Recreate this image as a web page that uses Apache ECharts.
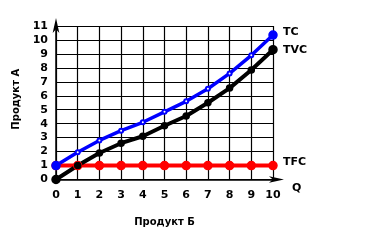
<!DOCTYPE html>
<html>
<head>
<meta charset="UTF-8" />
<script src="https://cdn.jsdelivr.net/npm/echarts@6/dist/echarts.min.js"></script>
<style>
  body { margin: 0; background: #fff; }
  #chart { width: 380px; height: 246px; }
</style>
</head>
<body>
<div id="chart"></div>
<script>
// объём выпуска Q
var qValues = [0, 1, 2, 3, 4, 5, 6, 7, 8, 9, 10]
var tcValues = [1, 1.95, 2.8, 3.5, 4.1, 4.85, 5.6, 6.5, 7.6, 8.9, 10.35]
var tvcValues = [0, 1.0, 1.9, 2.6, 3.1, 3.85, 4.55, 5.5, 6.55, 7.85, 9.3]
var tfcValues = [1, 1, 1, 1, 1, 1, 1, 1, 1, 1, 1]

function pairs(vals) {
  return qValues.map(function (q, i) { return [q, vals[i]] })
}

var chart = echarts.init(document.getElementById('chart'))
var font = 'DejaVu Sans'
var lastQ = qValues[qValues.length - 1]

// крайние точки крупнее, промежуточные - мелкие
function atEnds(a, b) {
  return function (v) {
    return v[0] === 0 || v[0] === lastQ ? a : b
  }
}

function line(name, vals, color, width, symbol, size, labelOffset) {
  return {
    name: name,
    type: 'line',
    data: pairs(vals),
    symbol: symbol,
    symbolSize: size,
    showAllSymbol: true,
    lineStyle: { color: color, width: width },
    itemStyle: { color: color, borderColor: color, borderWidth: 1.5 },
    endLabel: {
      show: true,
      formatter: name,
      color: '#000',
      fontFamily: font,
      fontWeight: 'bold',
      fontSize: 11,
      distance: 10,
      offset: labelOffset
    },
    animation: false,
    z: 3
  }
}

chart.setOption({
  animation: false,
  grid: { left: 56, right: 107, top: 26, bottom: 66.5 },
  xAxis: {
    type: 'value',
    min: 0, max: 10, interval: 1,
    name: 'Продукт Б',
    nameLocation: 'middle',
    nameGap: 38,
    nameTextStyle: { color: '#000', fontFamily: font, fontWeight: 'bold', fontSize: 10 },
    axisLine: {
      show: true,
      lineStyle: { color: '#000', width: 1.5 },
      symbol: ['none', 'arrow'],
      symbolSize: [5, 15],
      symbolOffset: [0, 11]
    },
    axisTick: { show: false },
    axisLabel: { color: '#000', fontFamily: font, fontWeight: 'bold', fontSize: 11, margin: 10 },
    splitLine: { show: true, lineStyle: { color: '#000', width: 1.2 } }
  },
  yAxis: {
    type: 'value',
    min: 0, max: 11, interval: 1,
    name: 'Продукт А',
    nameLocation: 'middle',
    nameGap: 33,
    nameRotate: 90,
    nameTextStyle: { color: '#000', fontFamily: font, fontWeight: 'bold', fontSize: 10, padding: [0, 0, 0, 7] },
    axisLine: {
      show: true,
      lineStyle: { color: '#000', width: 1.5 },
      symbol: ['none', 'arrow'],
      symbolSize: [5, 15],
      symbolOffset: [0, 8]
    },
    axisTick: { show: false },
    axisLabel: { color: '#000', fontFamily: font, fontWeight: 'bold', fontSize: 11, margin: 8 },
    splitLine: { show: true, lineStyle: { color: '#000', width: 1.2 } }
  },
  graphic: [
    {
      type: 'text',
      left: 292, top: 183,
      style: { text: 'Q', fill: '#000', font: 'bold 11px "DejaVu Sans"' }
    }
  ],
  series: [
    line('TFC', tfcValues, '#ff0000', 4, 'circle', 8, [0, -3]),
    line('TVC', tvcValues, '#000000', 4, 'circle', atEnds(8, 6), [0, 0]),
    line('TC', tcValues, '#0000ff', 3.5, atEnds('circle', 'emptyCircle'), atEnds(8, 4), [0, -3])
  ]
})
</script>
</body>
</html>
